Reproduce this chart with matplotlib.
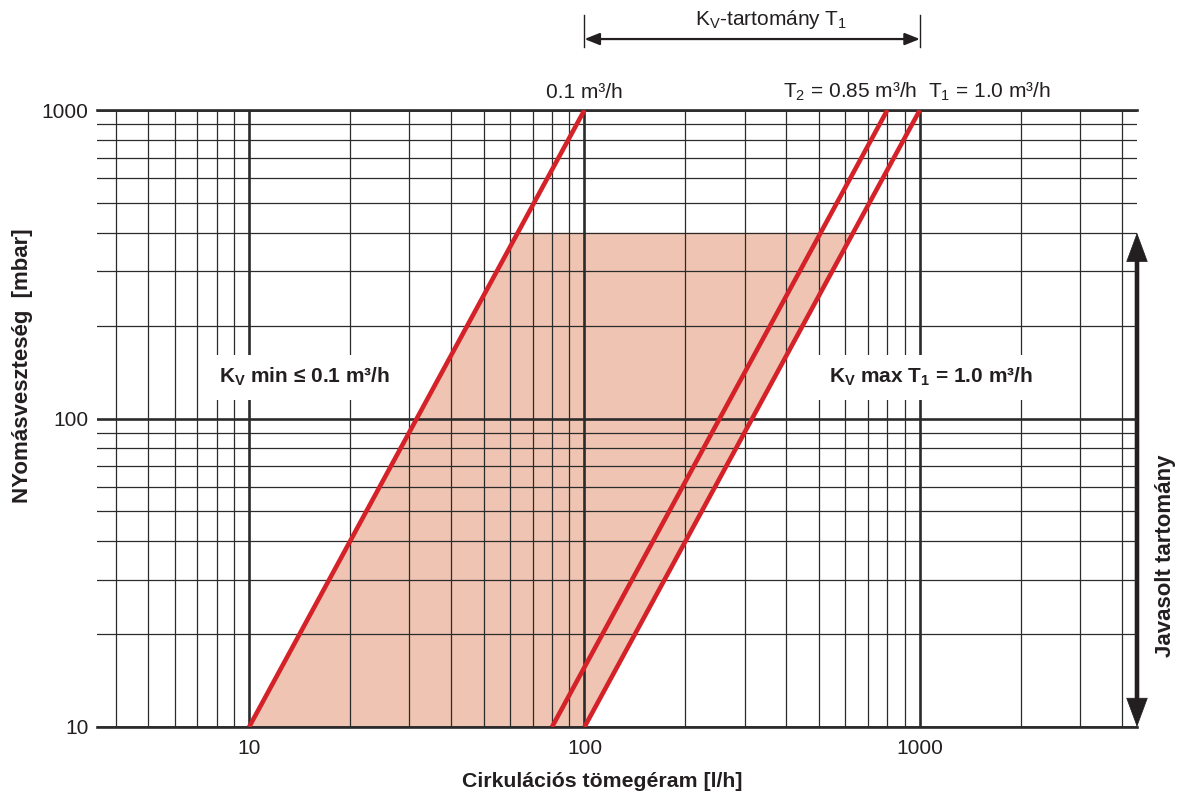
import matplotlib
matplotlib.use('Agg')
import matplotlib.pyplot as plt
import numpy as np
import matplotlib.transforms as mtransforms
from matplotlib.ticker import LogLocator, FuncFormatter, NullFormatter
from matplotlib.patches import FancyArrowPatch

plt.rcParams['font.family'] = ['Liberation Sans', 'DejaVu Sans']
plt.rcParams['mathtext.fontset'] = 'custom'
plt.rcParams['mathtext.rm'] = 'Liberation Sans'
plt.rcParams['mathtext.it'] = 'Liberation Sans'
plt.rcParams['mathtext.bf'] = 'Liberation Sans:bold'

# ---- data ----
dp_ends = [10, 1000]            # mbar, ends of each Kv line
q_kv_min = [10, 100]            # l/h, Kv = 0.1 m3/h
q_kv_t2 = [80, 800]             # l/h, T2 line
q_kv_t1 = [100, 1000]           # l/h, T1 = 1.0 m3/h
fill_dp_top = 400               # mbar, top of recommended range
fill_dp_bottom = 10
kv_range = [100, 1000]          # l/h, Kv-tartomány T1 arrow
x_limits = [3.52, 4440]
y_limits = [10, 1000]

INK = '#231f20'
RED = '#d52229'
FILL = '#efc4b3'
GRID = '#2b2b2b'
FS = 15

fig = plt.figure(figsize=(11.87, 8), dpi=100)
ax = fig.add_axes([97 / 1187, 73 / 800, 1040 / 1187, 617 / 800])
ax.set_xscale('log')
ax.set_yscale('log')
ax.set_xlim(*x_limits)
ax.set_ylim(*y_limits)


def q_at(q_line, dp):
    return 10 ** np.interp(np.log10(dp), np.log10(dp_ends), np.log10(q_line))


# shaded range between Kv min and T1 lines
fx = [q_at(q_kv_min, fill_dp_bottom), q_at(q_kv_t1, fill_dp_bottom),
      q_at(q_kv_t1, fill_dp_top), q_at(q_kv_min, fill_dp_top)]
fy = [fill_dp_bottom, fill_dp_bottom, fill_dp_top, fill_dp_top]
ax.fill(fx, fy, color=FILL, lw=0, zorder=1)

for q in (q_kv_min, q_kv_t2, q_kv_t1):
    ax.plot(q, dp_ends, color=RED, lw=3.3, solid_capstyle='butt', zorder=3)

# grid
ax.xaxis.set_major_locator(LogLocator(base=10, subs=(1.0,), numticks=20))
ax.xaxis.set_minor_locator(LogLocator(base=10, subs=np.arange(2, 10), numticks=50))
ax.yaxis.set_major_locator(LogLocator(base=10, subs=(1.0,), numticks=20))
ax.yaxis.set_minor_locator(LogLocator(base=10, subs=np.arange(2, 10), numticks=50))
fmt = FuncFormatter(lambda v, p: f"{v:g}")
ax.xaxis.set_major_formatter(fmt)
ax.yaxis.set_major_formatter(fmt)
ax.xaxis.set_minor_formatter(NullFormatter())
ax.yaxis.set_minor_formatter(NullFormatter())
ax.set_axisbelow(False)
ax.grid(which='major', color=GRID, lw=1.9)
ax.grid(which='minor', color=GRID, lw=0.9)
ax.tick_params(which='both', length=0, labelsize=FS, colors=INK)
ax.tick_params(axis='x', pad=9)
ax.tick_params(axis='y', pad=6)

for s in ('left', 'right'):
    ax.spines[s].set_visible(False)
for s in ('top', 'bottom'):
    ax.spines[s].set_linewidth(1.9)
    ax.spines[s].set_color(GRID)

ax.set_xlabel('Cirkulációs tömegéram [l/h]', fontsize=15.3, fontweight='bold', color=INK)
ax.xaxis.set_label_coords(0.4856, -0.073)
ax.set_ylabel('NYomásveszteség  [mbar]', fontsize=16, fontweight='bold', color=INK)
ax.yaxis.set_label_coords(-0.062, 0.585)

# labels at top of lines
ax.annotate('0.1 m³/h', xy=(q_kv_min[1], dp_ends[1]), xytext=(0, 9), textcoords='offset points',
            ha='center', va='baseline', fontsize=FS, color=INK, annotation_clip=False)
ax.annotate(r'T$_{2}$ = 0.85 m³/h', xy=(q_kv_t1[1], dp_ends[1]), xytext=(-2, 9),
            textcoords='offset points', ha='right', va='baseline', fontsize=FS, color=INK,
            annotation_clip=False)
ax.annotate(r'T$_{1}$ = 1.0 m³/h', xy=(q_kv_t1[1], dp_ends[1]), xytext=(6, 9),
            textcoords='offset points', ha='left', va='baseline', fontsize=FS, color=INK,
            annotation_clip=False)

# Kv range arrow at top
trans_top = mtransforms.blended_transform_factory(ax.transData, ax.transAxes)
arr = FancyArrowPatch((kv_range[0], 1.115), (kv_range[1], 1.115), transform=trans_top,
                      arrowstyle='<|-|>,head_length=0.45,head_width=0.18', mutation_scale=20,
                      lw=1.6, color=INK, shrinkA=0, shrinkB=0, clip_on=False)
ax.add_patch(arr)
for xv in kv_range:
    ax.plot([xv, xv], [1.102, 1.154], transform=trans_top, color=INK, lw=1.0, clip_on=False)
ax.text(0.648, 1.146, r'K$_{\mathregular{V}}$-tartomány T$_{1}$', transform=ax.transAxes,
        ha='center', va='center', fontsize=FS, color=INK)

# recommended range arrow at right
trans_right = mtransforms.blended_transform_factory(ax.transAxes, ax.transData)
stem = FancyArrowPatch((1.0, fill_dp_bottom), (1.0, fill_dp_top), transform=trans_right,
                       arrowstyle='-', lw=3.3, color=INK, shrinkA=12, shrinkB=12, clip_on=False)
ax.add_patch(stem)
heads = FancyArrowPatch((1.0, fill_dp_bottom), (1.0, fill_dp_top), transform=trans_right,
                        arrowstyle='<|-|>,head_length=1.0,head_width=0.37', mutation_scale=20,
                        lw=0.5, color=INK, shrinkA=0, shrinkB=0, clip_on=False)
ax.add_patch(heads)
ax.text(1.027, 0.277, 'Javasolt tartomány', transform=ax.transAxes, rotation=90,
        ha='center', va='center', fontsize=16, fontweight='bold', color=INK)

# boxed labels
box = dict(facecolor='white', edgecolor='none', boxstyle='square,pad=0.55')
ax.text(0.2, 0.567, r'K$_{\mathbf{V}}$ min ≤ 0.1 m³/h', transform=ax.transAxes,
        ha='center', va='center', fontsize=FS, fontweight='bold', color=INK, bbox=box, zorder=5)
ax.text(0.802, 0.567, r'K$_{\mathbf{V}}$ max T$_{\mathbf{1}}$ = 1.0 m³/h', transform=ax.transAxes,
        ha='center', va='center', fontsize=FS, fontweight='bold', color=INK, bbox=box, zorder=5)

fig.savefig('out.png', dpi=100, facecolor='white')
